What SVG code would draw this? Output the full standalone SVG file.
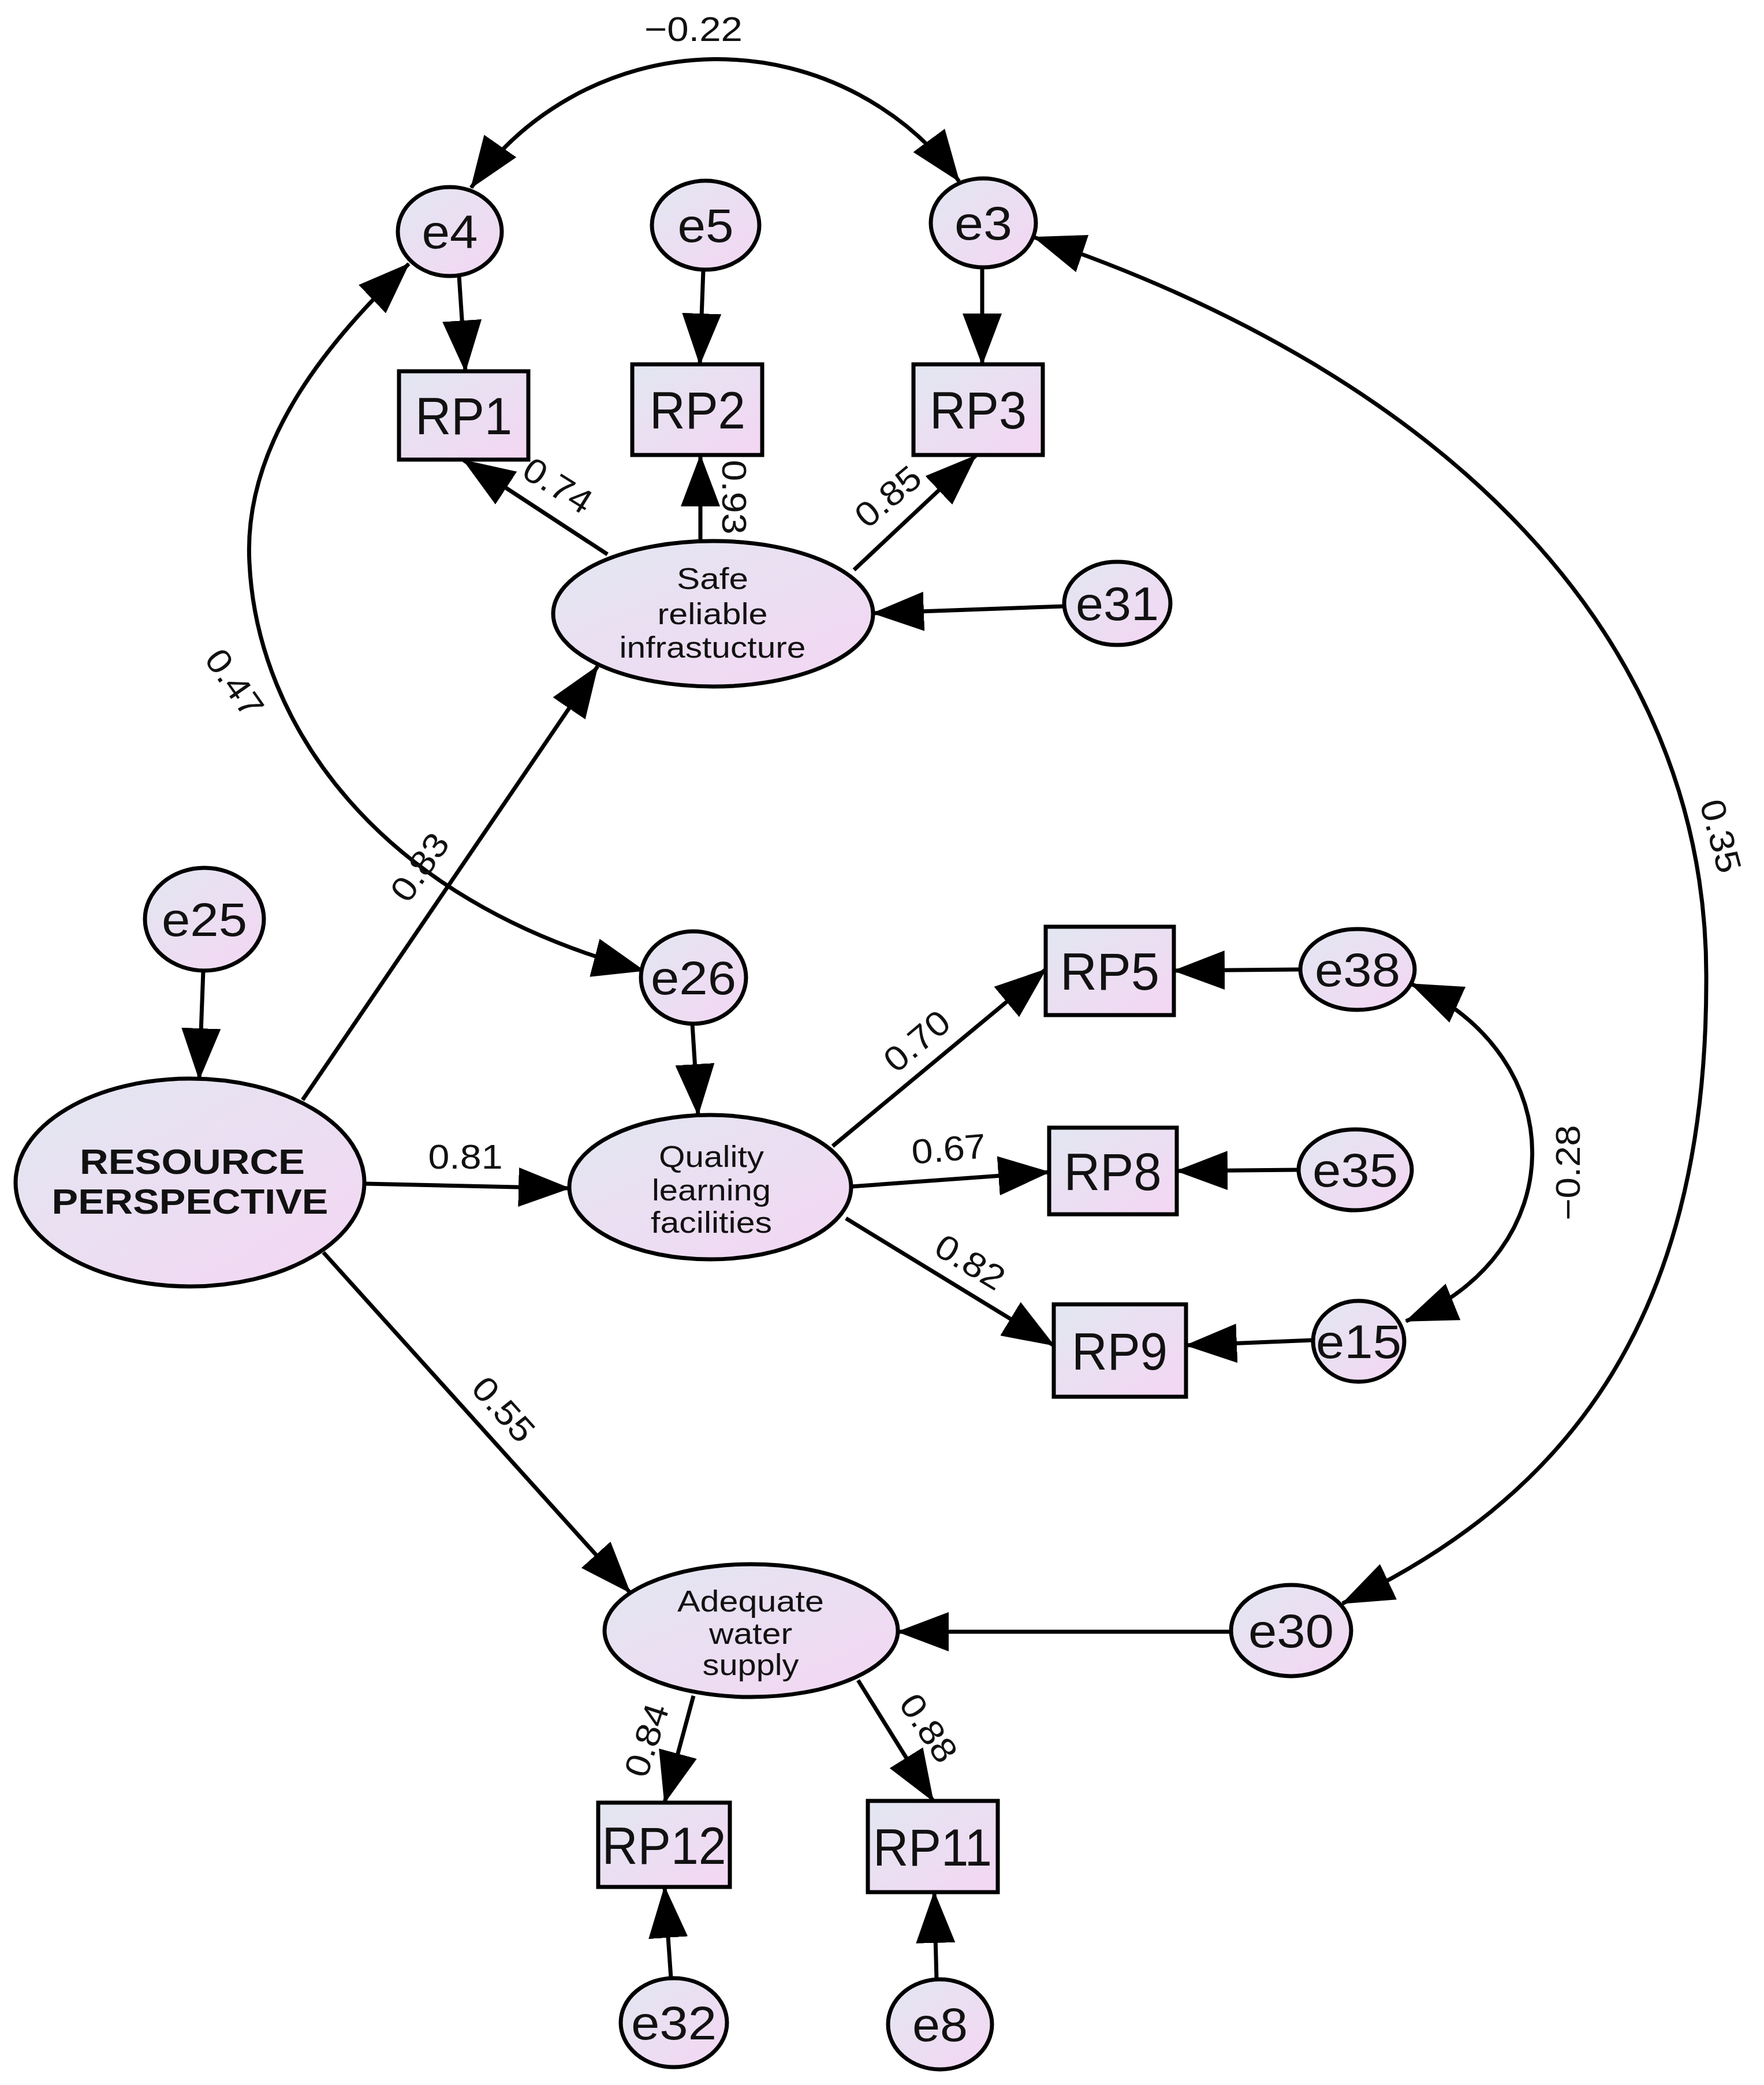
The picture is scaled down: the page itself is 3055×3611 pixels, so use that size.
<svg xmlns="http://www.w3.org/2000/svg" width="3055" height="3611" viewBox="0 0 3055 3611">
<defs>
<linearGradient id="g" x1="0" y1="0" x2="1" y2="1">
<stop offset="0" stop-color="#e2e7f1"/>
<stop offset="1" stop-color="#f4d6f3"/>
</linearGradient>
<marker id="ah" viewBox="0 0 90 68" refX="88" refY="34" markerWidth="90" markerHeight="68" markerUnits="userSpaceOnUse" orient="auto-start-reverse">
<path d="M0,0 L90,34 L0,68 z" fill="#000"/>
</marker>
<style>
.n{fill:url(#g);stroke:#000;stroke-width:7}
.c{fill:none;stroke:#000;stroke-width:7;marker-end:url(#ah)}
.b{fill:none;stroke:#000;stroke-width:7;marker-start:url(#ah);marker-end:url(#ah)}
.t{font-family:"Liberation Sans",Arial,sans-serif;fill:#111;text-anchor:middle}
.e{font-size:82px}
.r{font-size:90px}
.l{font-size:52px}
.k{font-size:62px;font-weight:bold}
.w{font-size:60px;dominant-baseline:central}
</style>
</defs>
<rect width="3055" height="3611" fill="#fff"/>
<g id="connectors">
<line class="c" x1="795" y1="478" x2="806" y2="643"/>
<line class="c" x1="1218" y1="468" x2="1212" y2="631"/>
<line class="c" x1="1701" y1="463" x2="1701" y2="631"/>
<line class="c" x1="1052" y1="960" x2="803" y2="797"/>
<line class="c" x1="1213" y1="939" x2="1213" y2="789"/>
<line class="c" x1="1479" y1="987" x2="1690" y2="789"/>
<line class="c" x1="1843" y1="1050" x2="1512" y2="1062"/>
<line class="c" x1="524" y1="1905" x2="1035" y2="1154"/>
<line class="c" x1="352" y1="1681" x2="345" y2="1869"/>
<line class="c" x1="1199" y1="1773" x2="1209" y2="1931"/>
<line class="c" x1="632" y1="2050" x2="986" y2="2058"/>
<line class="c" x1="560" y1="2169" x2="1091" y2="2758"/>
<line class="c" x1="1442" y1="1985" x2="1811" y2="1679"/>
<line class="c" x1="1474" y1="2055" x2="1817" y2="2030"/>
<line class="c" x1="1465" y1="2110" x2="1825" y2="2330"/>
<line class="c" x1="2252" y1="1679" x2="2033" y2="1681"/>
<line class="c" x1="2249" y1="2026" x2="2038" y2="2028"/>
<line class="c" x1="2274" y1="2321" x2="2054" y2="2330"/>
<line class="c" x1="2133" y1="2826" x2="1555" y2="2826"/>
<line class="c" x1="1201" y1="2937" x2="1151" y2="3122"/>
<line class="c" x1="1486" y1="2910" x2="1616" y2="3119"/>
<line class="c" x1="1162" y1="3426" x2="1151" y2="3268"/>
<line class="c" x1="1622" y1="3429" x2="1618" y2="3277"/>
<path class="b" d="M816,325 A520,520 0 0 1 1661,314"/>
<path class="b" d="M708,457 C580,580 420,760 432,975 C445,1250 650,1560 1115,1681"/>
<path class="b" d="M1791,411 C2500,650 2960,1100 2955,1700 C2955,2300 2700,2600 2325,2777"/>
<path class="b" d="M2444,1704 C2725,1830 2725,2170 2435,2288"/>
</g>
<g id="labels" class="t">
<text class="w" x="1201" y="50" textLength="170" lengthAdjust="spacingAndGlyphs">−0.22</text>
<text class="w" transform="rotate(32 966 841)" x="966" y="841" textLength="129" lengthAdjust="spacingAndGlyphs">0.74</text>
<text class="w" transform="rotate(90 1271 861)" x="1271" y="861" textLength="129" lengthAdjust="spacingAndGlyphs">0.93</text>
<text class="w" transform="rotate(-40 1538 860)" x="1538" y="860" textLength="129" lengthAdjust="spacingAndGlyphs">0.85</text>
<text class="w" transform="rotate(55 406 1183)" x="406" y="1183" textLength="129" lengthAdjust="spacingAndGlyphs">0.47</text>
<text class="w" transform="rotate(-55 727 1502)" x="727" y="1502" textLength="129" lengthAdjust="spacingAndGlyphs">0.83</text>
<text class="w" x="806" y="2003" textLength="129" lengthAdjust="spacingAndGlyphs">0.81</text>
<text class="w" transform="rotate(-40 1588 1803)" x="1588" y="1803" textLength="129" lengthAdjust="spacingAndGlyphs">0.70</text>
<text class="w" transform="rotate(-5 1643 1990)" x="1643" y="1990" textLength="129" lengthAdjust="spacingAndGlyphs">0.67</text>
<text class="w" transform="rotate(31 1680 2186)" x="1680" y="2186" textLength="129" lengthAdjust="spacingAndGlyphs">0.82</text>
<text class="w" transform="rotate(48 872 2441)" x="872" y="2441" textLength="129" lengthAdjust="spacingAndGlyphs">0.55</text>
<text class="w" transform="rotate(-72 1120 3014)" x="1120" y="3014" textLength="129" lengthAdjust="spacingAndGlyphs">0.84</text>
<text class="w" transform="rotate(56 1608 2993)" x="1608" y="2993" textLength="129" lengthAdjust="spacingAndGlyphs">0.88</text>
<text class="w" transform="rotate(75 2980 1448)" x="2980" y="1448" textLength="129" lengthAdjust="spacingAndGlyphs">0.35</text>
<text class="w" transform="rotate(-90 2715 2031)" x="2715" y="2031" textLength="165" lengthAdjust="spacingAndGlyphs">−0.28</text>
</g>
<g id="e4"><ellipse class="n" cx="779" cy="401" rx="90" ry="77"/><text class="t e" x="779" y="430" textLength="97" lengthAdjust="spacingAndGlyphs">e4</text></g>
<g id="e5"><ellipse class="n" cx="1222" cy="390" rx="93" ry="77"/><text class="t e" x="1222" y="419" textLength="97" lengthAdjust="spacingAndGlyphs">e5</text></g>
<g id="e3"><ellipse class="n" cx="1703" cy="386" rx="91" ry="77"/><text class="t e" x="1703" y="415" textLength="100" lengthAdjust="spacingAndGlyphs">e3</text></g>
<g id="RP1"><rect class="n" x="691" y="643" width="224" height="153"/><text class="t r" x="803" y="752" textLength="168" lengthAdjust="spacingAndGlyphs">RP1</text></g>
<g id="RP2"><rect class="n" x="1095" y="631" width="225" height="157"/><text class="t r" x="1208" y="742" textLength="166" lengthAdjust="spacingAndGlyphs">RP2</text></g>
<g id="RP3"><rect class="n" x="1582" y="631" width="224" height="157"/><text class="t r" x="1694" y="742" textLength="168" lengthAdjust="spacingAndGlyphs">RP3</text></g>
<g id="safe"><ellipse class="n" cx="1235" cy="1063" rx="277" ry="126"/>
<text class="t l" x="1234" y="1020" textLength="124" lengthAdjust="spacingAndGlyphs">Safe</text>
<text class="t l" x="1234" y="1081" textLength="191" lengthAdjust="spacingAndGlyphs">reliable</text>
<text class="t l" x="1234" y="1139" textLength="323" lengthAdjust="spacingAndGlyphs">infrastucture</text></g>
<g id="e31"><ellipse class="n" cx="1935" cy="1045" rx="92" ry="72"/><text class="t e" x="1935" y="1074" textLength="144" lengthAdjust="spacingAndGlyphs">e31</text></g>
<g id="e25"><ellipse class="n" cx="354" cy="1592" rx="103" ry="89"/><text class="t e" x="354" y="1621" textLength="148" lengthAdjust="spacingAndGlyphs">e25</text></g>
<g id="resource"><ellipse class="n" cx="329" cy="2048" rx="302" ry="180"/>
<text class="t k" x="333" y="2033" textLength="390" lengthAdjust="spacingAndGlyphs">RESOURCE</text>
<text class="t k" x="329" y="2102" textLength="479" lengthAdjust="spacingAndGlyphs">PERSPECTIVE</text></g>
<g id="e26"><ellipse class="n" cx="1201" cy="1693" rx="91" ry="80"/><text class="t e" x="1201" y="1722" textLength="148" lengthAdjust="spacingAndGlyphs">e26</text></g>
<g id="quality"><ellipse class="n" cx="1230" cy="2056" rx="244" ry="125"/>
<text class="t l" x="1232" y="2021" textLength="182" lengthAdjust="spacingAndGlyphs">Quality</text>
<text class="t l" x="1232" y="2079" textLength="206" lengthAdjust="spacingAndGlyphs">learning</text>
<text class="t l" x="1232" y="2135" textLength="210" lengthAdjust="spacingAndGlyphs">facilities</text></g>
<g id="RP5"><rect class="n" x="1811" y="1605" width="222" height="153"/><text class="t r" x="1922" y="1714" textLength="172" lengthAdjust="spacingAndGlyphs">RP5</text></g>
<g id="RP8"><rect class="n" x="1817" y="1953" width="221" height="150"/><text class="t r" x="1927" y="2061" textLength="169" lengthAdjust="spacingAndGlyphs">RP8</text></g>
<g id="RP9"><rect class="n" x="1825" y="2259" width="229" height="160"/><text class="t r" x="1939" y="2372" textLength="166" lengthAdjust="spacingAndGlyphs">RP9</text></g>
<g id="e38"><ellipse class="n" cx="2351" cy="1679" rx="99" ry="70"/><text class="t e" x="2351" y="1708" textLength="148" lengthAdjust="spacingAndGlyphs">e38</text></g>
<g id="e35"><ellipse class="n" cx="2347" cy="2026" rx="98" ry="70"/><text class="t e" x="2347" y="2055" textLength="148" lengthAdjust="spacingAndGlyphs">e35</text></g>
<g id="e15"><ellipse class="n" cx="2353" cy="2323" rx="79" ry="70"/><text class="t e" x="2353" y="2352" textLength="148" lengthAdjust="spacingAndGlyphs">e15</text></g>
<g id="adequate"><ellipse class="n" cx="1301" cy="2824" rx="254" ry="115"/>
<text class="t l" x="1300" y="2791" textLength="254" lengthAdjust="spacingAndGlyphs">Adequate</text>
<text class="t l" x="1300" y="2847" textLength="144" lengthAdjust="spacingAndGlyphs">water</text>
<text class="t l" x="1300" y="2901" textLength="167" lengthAdjust="spacingAndGlyphs">supply</text></g>
<g id="e30"><ellipse class="n" cx="2236" cy="2824" rx="104" ry="79"/><text class="t e" x="2236" y="2853" textLength="148" lengthAdjust="spacingAndGlyphs">e30</text></g>
<g id="RP12"><rect class="n" x="1036" y="3122" width="228" height="146"/><text class="t r" x="1150" y="3228" textLength="215" lengthAdjust="spacingAndGlyphs">RP12</text></g>
<g id="RP11"><rect class="n" x="1503" y="3119" width="225" height="158"/><text class="t r" x="1615" y="3231" textLength="206" lengthAdjust="spacingAndGlyphs">RP11</text></g>
<g id="e32"><ellipse class="n" cx="1167" cy="3503" rx="92" ry="77"/><text class="t e" x="1167" y="3532" textLength="148" lengthAdjust="spacingAndGlyphs">e32</text></g>
<g id="e8"><ellipse class="n" cx="1628" cy="3506" rx="90" ry="78"/><text class="t e" x="1628" y="3535" textLength="96" lengthAdjust="spacingAndGlyphs">e8</text></g>
</svg>
